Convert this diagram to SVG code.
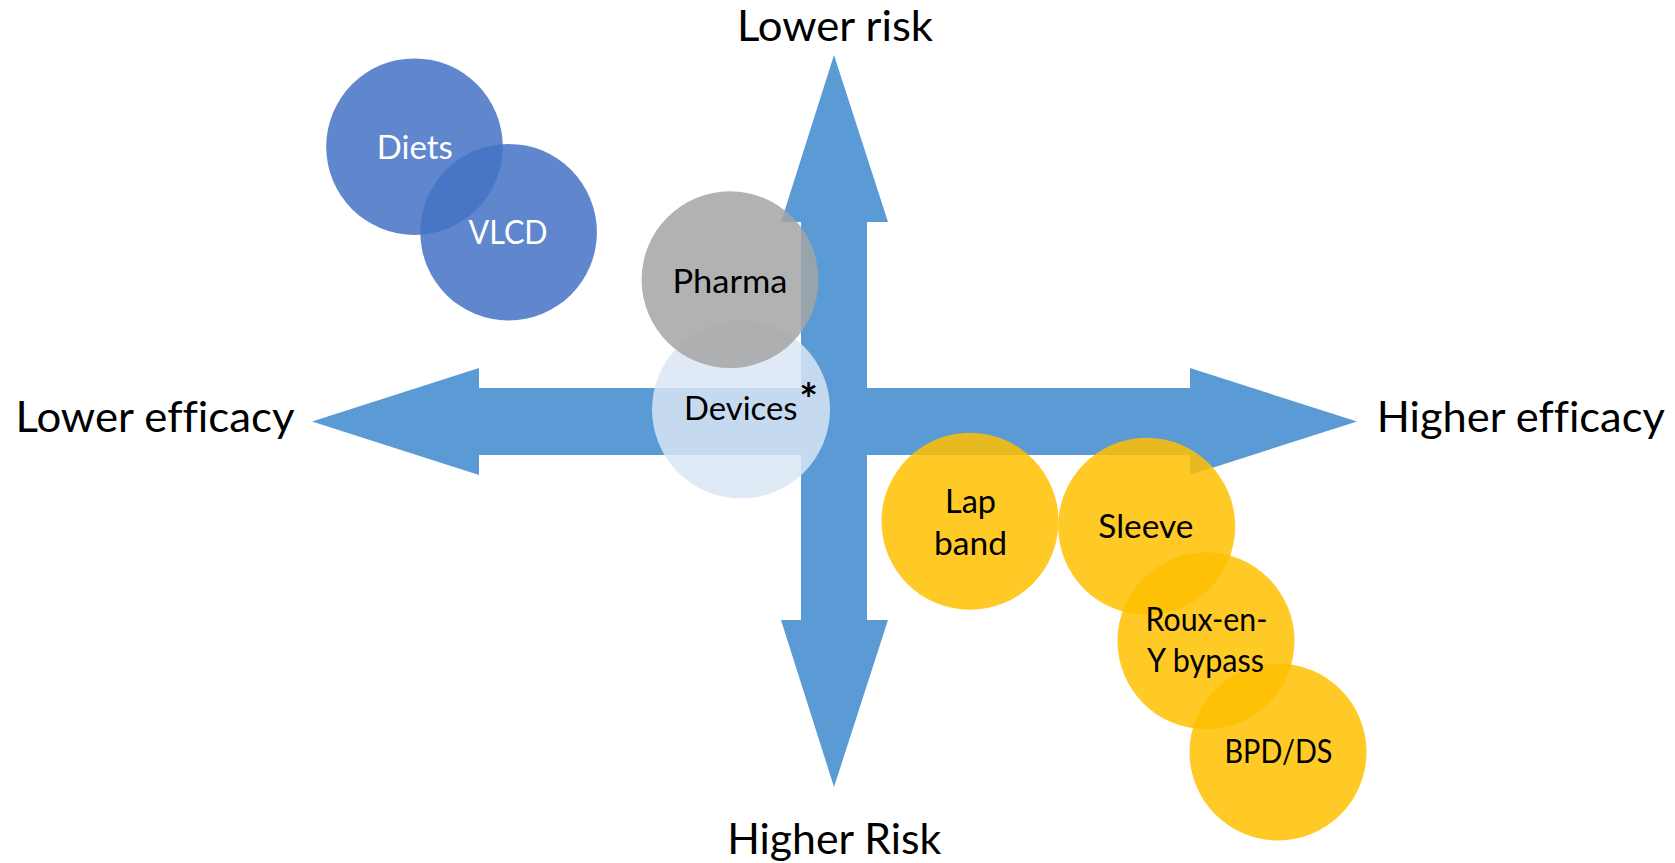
<svg xmlns="http://www.w3.org/2000/svg" width="1675" height="863" viewBox="0 0 1675 863">
<style>
text{font-family:Lato,"Liberation Sans",sans-serif;text-anchor:middle;font-variant-ligatures:none;font-feature-settings:"liga" 0}
.axis{font-size:43px;fill:#000}
.lbl{font-size:32.5px;fill:#000}
.wlbl{font-size:32.5px;fill:#fff}
.blue{fill:#4472C4;fill-opacity:0.85}
.gray{fill:#A5A5A5;fill-opacity:0.85}
.light{fill:#DAE6F4;fill-opacity:0.84}
.gold{fill:#FFC000;fill-opacity:0.85}
</style>
<rect width="1675" height="863" fill="#fff"/>
<g id="axes">
<polygon fill="#5B9BD5" points="834,55 888,222 867,222 867,388 1190,388 1190,368 1357,421.5 1190,475 1190,455 867,455 867,620 888,620 834,787 781,620 801,620 801,455 479,455 479,475 312,421.5 479,368 479,388 801,388 801,222 781,222"/>
<text class="axis" x="835" y="40.7" textLength="196" lengthAdjust="spacingAndGlyphs">Lower risk</text>
<text class="axis" x="834.2" y="854.3" textLength="214" lengthAdjust="spacingAndGlyphs">Higher Risk</text>
<text class="axis" x="155" y="431.7" textLength="279" lengthAdjust="spacingAndGlyphs">Lower efficacy</text>
<text class="axis" x="1520.8" y="431.7" textLength="288" lengthAdjust="spacingAndGlyphs">Higher efficacy</text>
</g>
<g id="connectors"/>
<g id="node-vlcd">
<circle class="blue" cx="508.6" cy="232.2" r="88.3"/>
<text class="wlbl" x="508.1" y="244" textLength="79" lengthAdjust="spacingAndGlyphs">VLCD</text>
</g>
<g id="node-diets">
<circle class="blue" cx="414.5" cy="146.7" r="88.3"/>
<text class="wlbl" x="414.8" y="159" textLength="76" lengthAdjust="spacingAndGlyphs">Diets</text>
</g>
<g id="node-devices">
<circle class="light" cx="741" cy="409.5" r="89"/>
<text class="lbl" x="740.8" y="420" textLength="113.5" lengthAdjust="spacingAndGlyphs">Devices</text>
<text class="lbl" x="808.5" y="415" style="font-size:44px;font-weight:bold">*</text>
</g>
<g id="node-pharma">
<circle class="gray" cx="730" cy="279.7" r="88.4"/>
<text class="lbl" x="730" y="292.7" textLength="115" lengthAdjust="spacingAndGlyphs">Pharma</text>
</g>
<g id="node-lapband">
<circle class="gold" cx="970" cy="521.3" r="88.5"/>
<text class="lbl" x="970.5" y="513.3" textLength="51" lengthAdjust="spacingAndGlyphs">Lap</text>
<text class="lbl" x="970.5" y="555" textLength="73" lengthAdjust="spacingAndGlyphs">band</text>
</g>
<g id="node-sleeve">
<circle class="gold" cx="1146.7" cy="526.3" r="88.5"/>
<text class="lbl" x="1145.8" y="538.3" textLength="95" lengthAdjust="spacingAndGlyphs">Sleeve</text>
</g>
<g id="node-bpdds">
<circle class="gold" cx="1278" cy="752" r="88.5"/>
<text class="lbl" x="1278.5" y="763.3" textLength="108" lengthAdjust="spacingAndGlyphs">BPD/DS</text>
</g>
<g id="node-roux">
<circle class="gold" cx="1206" cy="640.8" r="88.5"/>
<text class="lbl" x="1206.5" y="631" textLength="122" lengthAdjust="spacingAndGlyphs">Roux-en-</text>
<text class="lbl" x="1205.5" y="672" textLength="117" lengthAdjust="spacingAndGlyphs">Y bypass</text>
</g>
</svg>
